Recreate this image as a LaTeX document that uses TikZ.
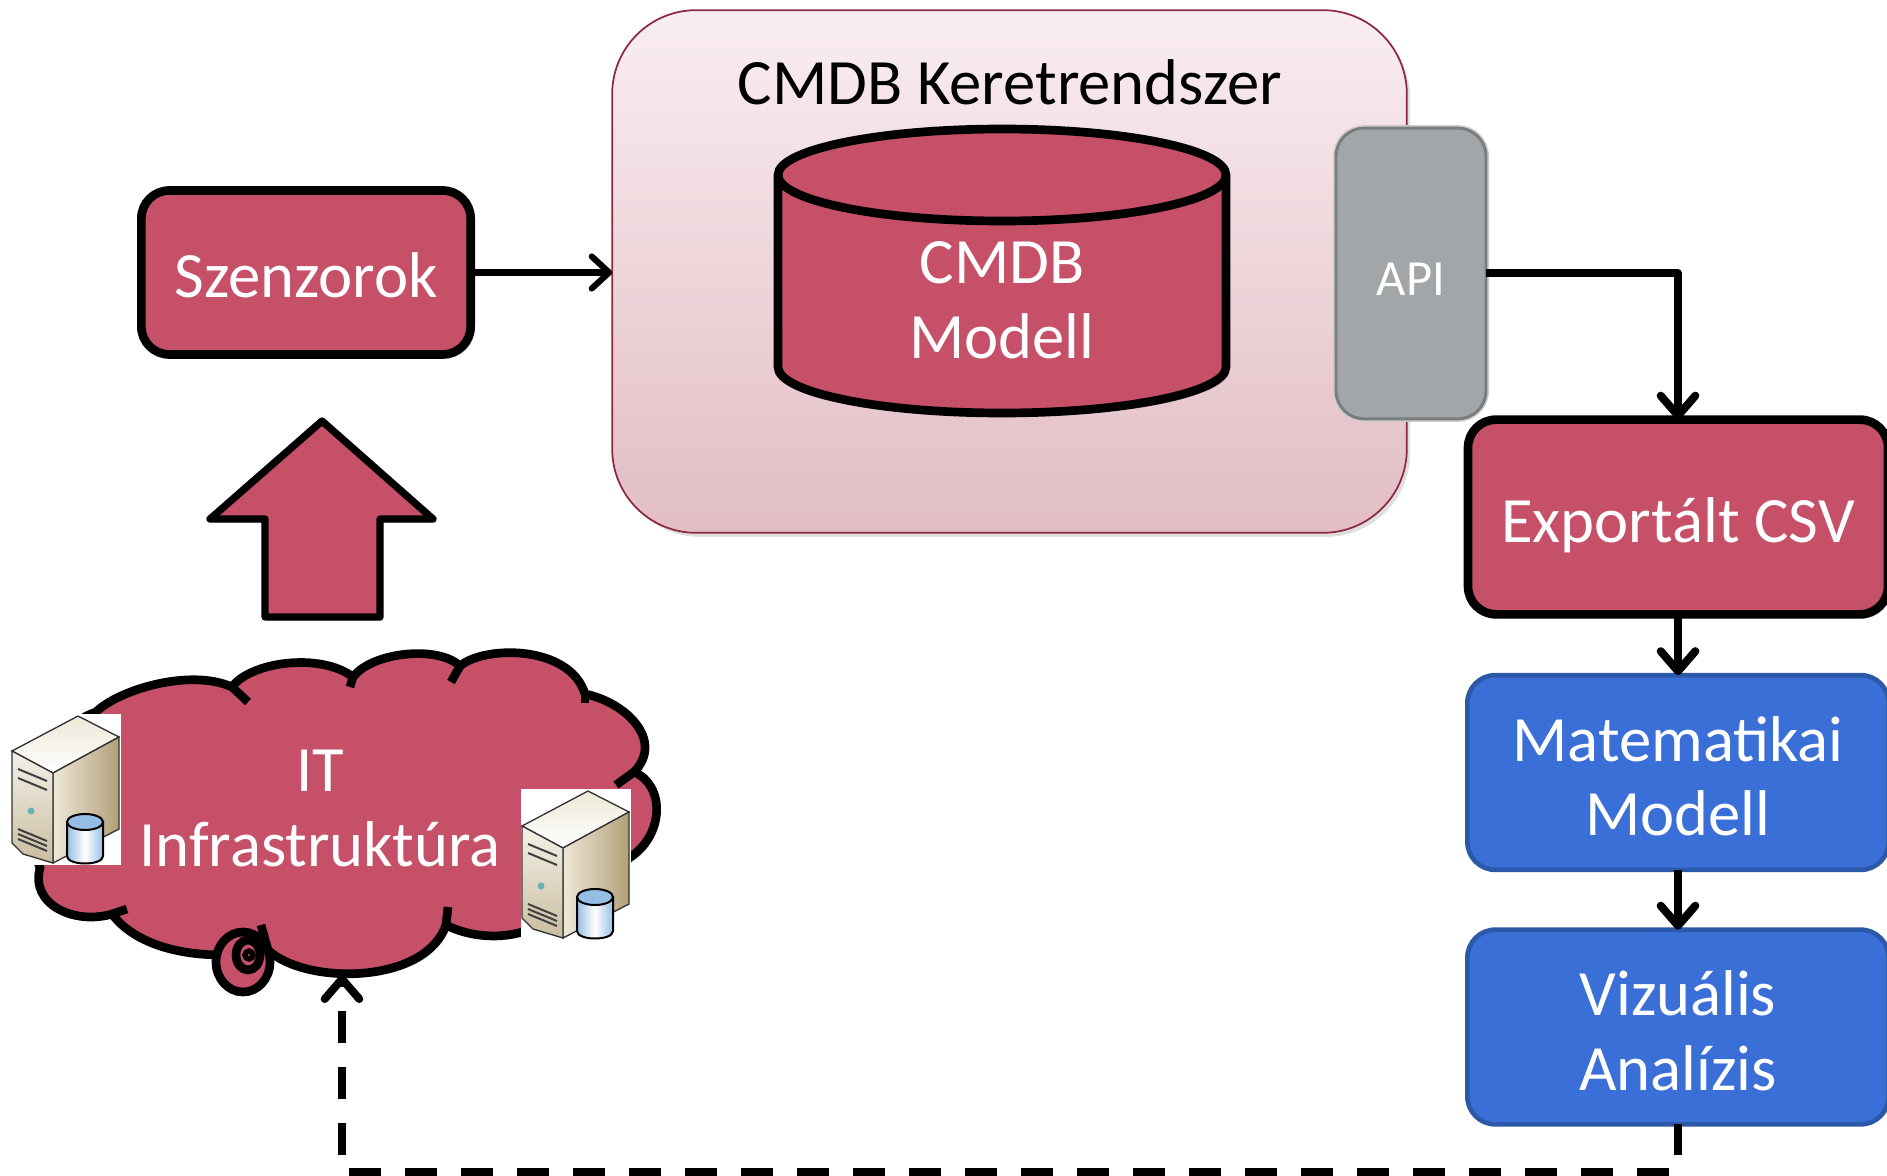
\documentclass[tikz,border=0pt]{standalone}
\usepackage{fontspec}
\setmainfont{Carlito}
\usetikzlibrary{arrows.meta,shadows}
\definecolor{boxred}{RGB}{197,80,104}
\definecolor{boxblue}{RGB}{58,111,216}
\definecolor{boxblueline}{RGB}{44,88,168}
\definecolor{apigray}{RGB}{162,166,169}
\definecolor{frameline}{RGB}{140,40,66}
\definecolor{servertan}{RGB}{178,160,120}
\definecolor{servercream}{RGB}{238,232,216}
\definecolor{diskblue}{RGB}{150,190,228}
\newcommand{\toppad}{\rule{0pt}{39.5pt}}
\tikzset{every picture/.style={line width=0.75pt}}
\tikzset{
	softshadow/.style={drop shadow={opacity=0.25,shadow xshift=2.5pt,shadow yshift=-3pt}},
	boxtext/.style={text=white,align=center,font=\fontsize{48.5}{56}\selectfont},
	redbox/.style={draw=black,line width=6.5pt,fill=boxred,rounded corners=21pt,outer sep=0pt,softshadow,boxtext,text height=38pt,text depth=0pt},
	bluebox/.style={draw=boxblueline,line width=3.5pt,fill=boxblue,rounded corners=21pt,outer sep=0pt,minimum width=316pt,minimum height=146pt,boxtext},
	conn/.style={line width=6pt,-{Straight Barb[length=15pt,width=26pt,round]}},
	thinconn/.style={line width=4.6pt,-{Straight Barb[length=13pt,width=24pt,round]}},
	server/.pic={
		\fill[white] (0,0) rectangle (110,151);
		\draw[black!80,line width=1pt,top color=servercream,bottom color=white] (1,37) -- (67,2) -- (108,23) -- (42,59) -- cycle;
		\draw[black!80,line width=1pt,left color=servercream,right color=servertan] (42,59) -- (108,23) -- (108,115) -- (42,149) -- cycle;
		\draw[black!80,line width=1pt,top color=servercream!60!white,bottom color=servertan!70!white] (1,37) -- (42,59) -- (42,149) -- (12,140) -- (1,129) -- cycle;
		\foreach \ypos in {55,64,115,120,125}
			\draw[black!75,line width=1.5pt] (7,\ypos) -- (36,\ypos+12);
		\fill[teal!60!white] (20,97) circle (3.5);
		\draw[black,line width=1.5pt,left color=diskblue,right color=diskblue,middle color=white] (56,108) -- (56,142) .. controls (56,152) and (92,152) .. (92,142) -- (92,108) -- cycle;
		\draw[black,line width=1.5pt,fill=diskblue] (74,108) ellipse (18 and 8);
	}
}
\begin{document}
\begin{tikzpicture}[x=0.75pt,y=0.75pt,yscale=-1,xscale=1]
	\useasboundingbox (0,0) rectangle (1887,1176);

	%Shape: Keretrendszer frame
	\node (frame) at (1009.5,271.5) [draw=frameline,line width=1.3pt,top color=boxred!10!white,bottom color=boxred!35!white!92!gray,rounded corners=63pt,minimum width=596pt,minimum height=392pt,outer sep=0pt,softshadow] {};
	\node (frametitle) at (1010,82) [font=\fontsize{48.5}{56}\selectfont] {CMDB Keretrendszer};
	%Shape: Can
	\draw [line width=6.5pt,fill=boxred,softshadow] (778,175) -- (778,367) arc[start angle=180,end angle=0,x radius=224,y radius=46] -- (1226,175) arc[start angle=0,end angle=-180,x radius=224,y radius=46] -- cycle;
	\draw [line width=6.5pt] (778,175) arc[start angle=180,end angle=0,x radius=224,y radius=46];
	\node (cmdb) at (1002,295) [boxtext] {\toppad CMDB\\Modell};
	%Shape: API
	\node (api) at (1411,273.5) [draw=apigray!75!black,preaction={draw=black!20,line width=4.5pt},line width=2.2pt,fill=apigray,rounded corners=21pt,minimum width=112.5pt,minimum height=218pt,outer sep=0pt,text=white,font=\fontsize{38}{44}\selectfont,text height=33pt,text depth=0pt] {API};

	%Shape: Rounded boxes
	\node (szenzorok) at (306,272.5) [redbox,minimum width=247pt,minimum height=123pt] {Szenzorok};
	\node (csv) at (1678,517) [redbox,minimum width=315pt,minimum height=146pt] {Exportált CSV};
	\node (matek) at (1678,772.5) [bluebox] {\toppad Matematikai\\Modell};
	\node (vizual) at (1678,1027) [bluebox] {\toppad Vizuális\\Analízis};

	%Shape: Up Arrow
	\draw [line width=5.5pt,fill=boxred,line join=round,softshadow] (322,421) -- (433,519) -- (380,519) -- (380,617) -- (265,617) -- (265,519) -- (210,519) -- cycle;

	%Shape: Cloud
	\draw [line width=6.5pt,fill=boxred,softshadow] (96,712) .. controls (118,690) and (190,668) .. (232,687) .. controls (250,662) and (320,652) .. (353,677) .. controls (372,652) and (438,645) .. (460,666) .. controls (485,645) and (570,645) .. (585,694) .. controls (625,702) and (665,740) .. (634,772) .. controls (665,785) and (665,835) .. (629,858) .. controls (600,900) and (560,935) .. (522,932) .. controls (495,940) and (465,935) .. (446,925) .. controls (425,985) and (305,985) .. (268,950) .. controls (225,960) and (145,958) .. (112,914) .. controls (75,925) and (30,905) .. (40,868) .. controls (25,830) and (40,730) .. (96,712) -- cycle;
	\foreach \xa/\ya/\xb/\yb in {232/687/248/702,353/677/350/687,460/666/451/682,585/694/585/703,634/772/616/785,446/925/448/907,268/950/261/925,112/914/127/909}
		\draw [line width=6.5pt] (\xa,\ya) -- (\xb,\yb);
	\draw [line width=6.5pt,fill=boxred] (243,962) ellipse (27 and 30);
	\draw [line width=6.5pt,fill=boxred] (248,955) ellipse (12 and 15);
	\draw [line width=4pt,fill=boxred] (249,955) circle (4);

	% Text Node
	\node (cloud) at (320,803) [boxtext] {\toppad IT\\Infrastruktúra};

	\pic[yscale=-1] at (11,714) {server};
	\pic[yscale=-1] at (521,789) {server};

	%Straight Lines
	\coordinate (framein) at (frame.west |- szenzorok.east);
	\draw [thinconn] (szenzorok.east) -- (framein);
	\coordinate (apiturn) at (csv.north |- api.east);
	\draw [conn,line join=round] (api.east) -- (apiturn) -- (csv.north);
	\draw [conn] (csv.south) -- (matek.north);
	\draw [conn] (matek.south) -- (vizual.north);

	%Dashed return line
	\coordinate (vizualend) at (1678,1155);
	\coordinate (dashstart) at (1669,1172);
	\coordinate (cloudbottom) at (342,975);
	\draw [line width=6pt] (vizual.south) -- (vizualend);
	\draw [conn,dash pattern=on 24pt off 18pt] (dashstart) -- (dashstart -| cloudbottom) -- (cloudbottom);
\end{tikzpicture}
\end{document}
